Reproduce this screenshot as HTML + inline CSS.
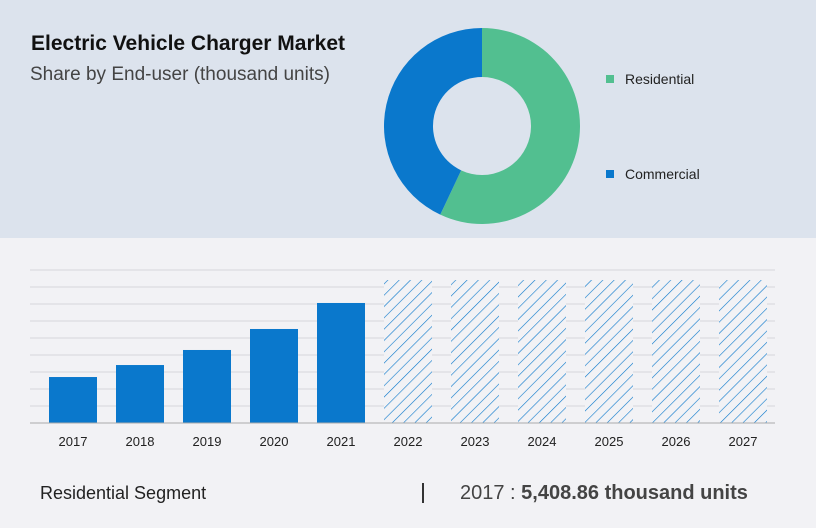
<!DOCTYPE html>
<html><head><meta charset="utf-8"><style>
body{margin:0;width:816px;height:528px;overflow:hidden;font-family:"Liberation Sans",sans-serif;background:#f2f2f5}
svg{display:block}
</style></head><body>
<svg width="816" height="528" id="chart">
<defs><pattern id="hatch" patternUnits="userSpaceOnUse" width="8" height="8" patternTransform="rotate(45)"><rect width="8" height="8" fill="#f2f2f5"/><line x1="0" y1="0" x2="0" y2="8" stroke="#0a78cc" stroke-width="1.2"/></pattern></defs>
<rect x="0" y="0" width="816" height="238" fill="#dce3ed"/>
<text x="31" y="50" font-size="21" font-weight="bold" fill="#111">Electric Vehicle Charger Market</text>
<text x="30" y="80" font-size="19" fill="#444">Share by End-user (thousand units)</text>
<g id="donut"></g>
<rect x="606" y="75" width="8" height="8" fill="#52bf90"/>
<text x="625" y="84" font-size="14" fill="#222">Residential</text>
<rect x="606" y="170" width="8" height="8" fill="#0a78cc"/>
<text x="625" y="179" font-size="14" fill="#222">Commercial</text>
<g id="grid"></g>
<g id="bars"></g>
<line x1="30" y1="423" x2="775" y2="423" stroke="#aaa"/>
<text x="40" y="499" font-size="18" fill="#222">Residential Segment</text>
<line x1="423" y1="483" x2="423" y2="503" stroke="#333" stroke-width="2"/>
<text x="460" y="499" font-size="20" fill="#444">2017 : <tspan font-weight="bold">5,408.86 thousand units</tspan></text>
</svg>
<script>
const years=["2017","2018","2019","2020","2021","2022","2023","2024","2025","2026","2027"];
const values=[5409,6820,8590,11060,14120,16820,16820,16820,16820,16820,16820];
const forecast=[false,false,false,false,false,true,true,true,true,true,true];
const gridTicks=[0,2000,4000,6000,8000,10000,12000,14000,16000,18000];
const shareLabels=["Residential","Commercial"];
const shares=[57,43];
const NS="http://www.w3.org/2000/svg";
const yBase=423, yTop=270, vmax=18000;
const yScale=v=>yBase-(v/vmax)*(yBase-yTop);
const xScale=i=>49+i*67;
const g=document.getElementById('grid'), b=document.getElementById('bars');
gridTicks.forEach(t=>{if(t===0)return;const l=document.createElementNS(NS,'line');
l.setAttribute('x1',30);l.setAttribute('x2',775);l.setAttribute('y1',yScale(t));l.setAttribute('y2',yScale(t));l.setAttribute('stroke','#d6d6dc');


g.appendChild(l);});
years.forEach((yr,i)=>{const r=document.createElementNS(NS,'rect');
r.setAttribute('x',xScale(i));r.setAttribute('width',48);r.setAttribute('y',yScale(values[i]));r.setAttribute('height',yBase-yScale(values[i]));
r.setAttribute('fill',forecast[i]?'url(#hatch)':'#0a78cc');


b.appendChild(r);
const t=document.createElementNS(NS,'text');t.setAttribute('x',xScale(i)+24);t.setAttribute('y',446);t.setAttribute('text-anchor','middle');t.setAttribute('font-size',13);t.setAttribute('fill','#222');t.textContent=yr;


b.appendChild(t);});
const d=document.getElementById('donut');const cx=482,cy=126,R=98,r0=49;const cols=["#52bf90","#0a78cc"];
let a0=0;const tot=shares.reduce((s,v)=>s+v,0);
shares.forEach((s,i)=>{const a1=a0+s/tot*2*Math.PI;const pt=(a,rr)=>[cx+rr*Math.sin(a),cy-rr*Math.cos(a)];
const p1=pt(a0,R),p2=pt(a1,R),p3=pt(a1,r0),p4=pt(a0,r0);const lg=(a1-a0)>Math.PI?1:0;
const p=document.createElementNS(NS,'path');
p.setAttribute('d',`M${p1}A${R},${R} 0 ${lg} 1 ${p2}L${p3}A${r0},${r0} 0 ${lg} 0 ${p4}Z`);p.setAttribute('fill',cols[i]);


d.appendChild(p);a0=a1;});
</script>
</body></html>
